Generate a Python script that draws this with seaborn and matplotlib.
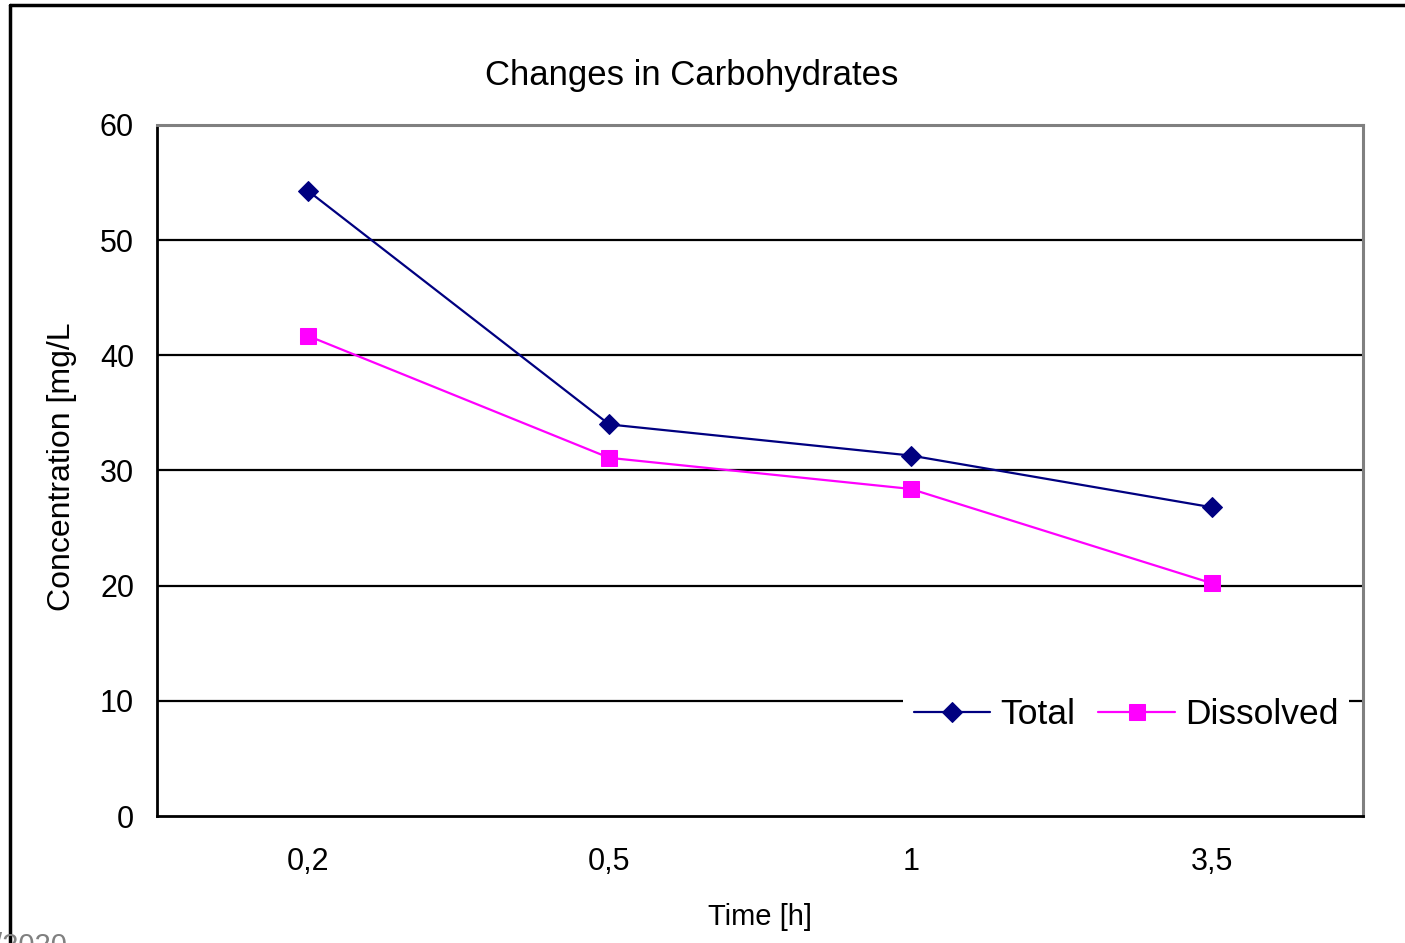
import matplotlib
matplotlib.use("Agg")
import matplotlib.pyplot as plt
import seaborn as sns
import pandas as pd
from matplotlib.lines import Line2D

times = ["0,2", "0,5", "1", "3,5"]
total = [54.3, 34.0, 31.3, 26.8]
dissolved = [41.7, 31.1, 28.4, 20.2]
series_names = ["Total", "Dissolved"]
yticks = [0, 10, 20, 30, 40, 50, 60]

sns.set_theme(style="white")
plt.rcParams['font.family'] = ['Liberation Sans', 'DejaVu Sans']
plt.rcParams['text.color'] = 'black'
plt.rcParams['axes.labelcolor'] = 'black'
plt.rcParams['xtick.color'] = 'black'
plt.rcParams['ytick.color'] = 'black'

df = pd.DataFrame({
    "pos": list(range(len(times))) * 2,
    "value": total + dissolved,
    "series": [series_names[0]] * len(times) + [series_names[1]] * len(times),
})

fig = plt.figure(figsize=(14.05, 9.43), dpi=100)
ax = fig.add_axes([157/1405, 1-816/943, (1363-157)/1405, (816-125)/943])

palette = {"Total": "#000080", "Dissolved": "#FF00FF"}
markers = {"Total": "D", "Dissolved": "s"}
for name in series_names:
    sub = df[df["series"] == name]
    sns.lineplot(data=sub, x="pos", y="value", ax=ax, color=palette[name],
                 marker=markers[name], markersize=10 if name == "Total" else 11,
                 markeredgecolor=palette[name], linewidth=1.6, label=name, zorder=3)

ax.set_xlim(-0.5, len(times) - 0.5)
ax.set_ylim(0, 60)
ax.set_yticks(yticks)
ax.set_yticklabels([str(v) for v in yticks], fontsize=22)
ax.set_xticks(range(len(times)))
ax.set_xticklabels(times, fontsize=22)
ax.set_xticks([i - 0.5 for i in range(len(times) + 1)], minor=True)
ax.tick_params(axis='x', which='major', length=0, pad=22)
ax.tick_params(axis='x', which='minor', length=6.5, width=1.5, color='black', direction='out')
ax.tick_params(axis='y', which='major', length=6.5, width=1.5, color='black', direction='out', pad=10)

for v in yticks[1:-1]:
    ax.axhline(v, color='black', linewidth=1.6, zorder=1)

for s in ['left', 'bottom']:
    ax.spines[s].set_color('black')
    ax.spines[s].set_linewidth(2)
for s in ['top', 'right']:
    ax.spines[s].set_color('#808080')
    ax.spines[s].set_linewidth(2.2)

ax.set_xlabel("Time [h]", fontsize=21)
ax.xaxis.label.set_verticalalignment('center')
ax.xaxis.set_label_coords((760-157)/1206, (816-917)/691)
ax.set_ylabel("Concentration [mg/L", fontsize=23)
ax.yaxis.label.set_verticalalignment('center')
ax.yaxis.set_label_coords((62-157)/1206, (816-467)/691)
fig.text(692/1405, 1-75/943, "Changes in Carbohydrates", ha='center', va='center', fontsize=25)

leg = ax.legend(loc='center left', bbox_to_anchor=((903-157)/1206, (816-715)/691), ncol=2,
                fontsize=25.5, frameon=True, framealpha=1, facecolor='white', edgecolor='white',
                handlelength=2.17, columnspacing=0.65, handletextpad=0.28, borderpad=0.3,
                borderaxespad=0, fancybox=False)
leg.get_frame().set_linewidth(0)
leg.set_zorder(5)

# outer chart border
fig.add_artist(Line2D([10/1405, 10/1405], [0, 1-5/943], transform=fig.transFigure,
                      color='black', linewidth=2.5))
fig.add_artist(Line2D([10/1405, 1.0], [1-5/943, 1-5/943], transform=fig.transFigure,
                      color='black', linewidth=2.5))
fig.text(-0.004, -0.018, "/2020", color='#808080', fontsize=21, ha='left', va='bottom')

fig.savefig("out.png", dpi=100)
